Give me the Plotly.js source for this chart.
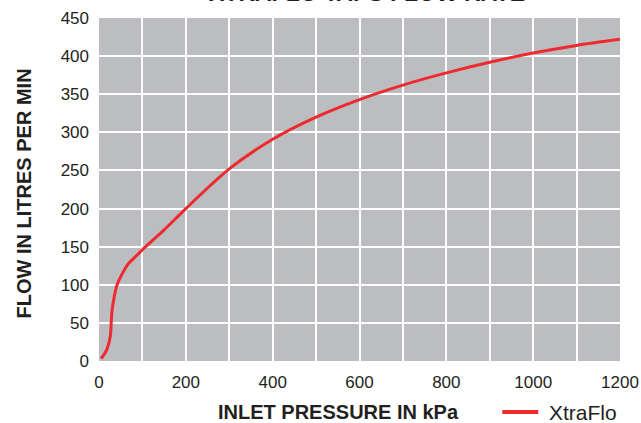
<!DOCTYPE html>
<html>
<head>
<meta charset="utf-8">
<script src="https://cdn.plot.ly/plotly-3.0.1.min.js"></script>
<style>html,body{margin:0;padding:0;background:#fff;}</style>
</head>
<body>
<div id="chart" style="width:641px;height:423px;"></div>
<script>
// Inlet pressure (kPa) and flow (L/min)
const pressure = [5, 18, 26, 28, 30, 35, 41, 53, 68, 88, 100, 150, 200, 300, 400, 500, 600, 700, 800, 900, 1000, 1100, 1200];
const flow     = [3, 15, 32, 49, 66, 84, 99, 114, 128, 139, 146, 172, 200, 252, 291, 320, 343, 362, 378, 392, 404, 414, 422];
const seriesName = "XtraFlo";
const chartTitle = "XTRAFLO TAPS FLOW RATE";
const xTitle = "INLET PRESSURE IN kPa";
const yTitle = "FLOW IN LITRES PER MIN";

const fontTick = "Liberation Sans Narrow, Arial Narrow, Liberation Sans, Arial, sans-serif";
const fontMain = "Liberation Sans, Arial, sans-serif";
const ink = "#231f20";
const red = "#ee2a2f";

const trace = {
  x: pressure, y: flow, name: seriesName, type: "scatter", mode: "lines",
  line: {color: red, width: 3, shape: "spline", smoothing: 0.8}
};

const layout = {
  width: 641, height: 423,
  margin: {l: 99, r: 21, t: 18, b: 62},
  paper_bgcolor: "#ffffff",
  plot_bgcolor: "#bcbdc0",
  showlegend: false,
  xaxis: {
    range: [0, 1200], dtick: 200, tick0: 0,
    showgrid: true, gridcolor: "#ffffff", gridwidth: 2,
    minor: {dtick: 100, showgrid: true, gridcolor: "#ffffff", gridwidth: 2},
    zeroline: false, showline: false, ticks: "",
    ticklabelstandoff: 9, automargin: false,
    tickfont: {family: fontTick, size: 17, color: ink}
  },
  yaxis: {
    range: [0, 450], dtick: 50, tick0: 0,
    showgrid: true, gridcolor: "#ffffff", gridwidth: 2,
    zeroline: false, showline: false, ticks: "",
    ticklabelstandoff: 9, automargin: false,
    tickfont: {family: fontTick, size: 17, color: ink}
  },
  shapes: [
    {type: "line", xref: "paper", yref: "paper", x0: 0.774, x1: 0.843, y0: -0.149, y1: -0.149,
     line: {color: red, width: 4}}
  ],
  annotations: [
    {text: chartTitle, xref: "paper", yref: "paper", x: 0.515, y: 1.0, yshift: 10,
     xanchor: "center", yanchor: "bottom", showarrow: false,
     font: {family: fontMain, size: 23, color: ink, weight: "bold"}},
    {text: xTitle, xref: "paper", yref: "paper", x: 0.46, y: -0.15,
     xanchor: "center", yanchor: "middle", showarrow: false,
     font: {family: fontMain, size: 20, color: ink, weight: "bold"}},
    {text: seriesName, xref: "paper", yref: "paper", x: 0.86, y: -0.15,
     xanchor: "left", yanchor: "middle", showarrow: false,
     font: {family: fontMain, size: 21, color: ink}},
    {text: yTitle, xref: "paper", yref: "paper", x: -0.145, y: 0.49,
     xanchor: "center", yanchor: "middle", showarrow: false, textangle: -90,
     font: {family: fontMain, size: 20, color: ink, weight: "bold"}}
  ]
};

Plotly.newPlot("chart", [trace], layout, {displayModeBar: false, staticPlot: true});
</script>
</body>
</html>
